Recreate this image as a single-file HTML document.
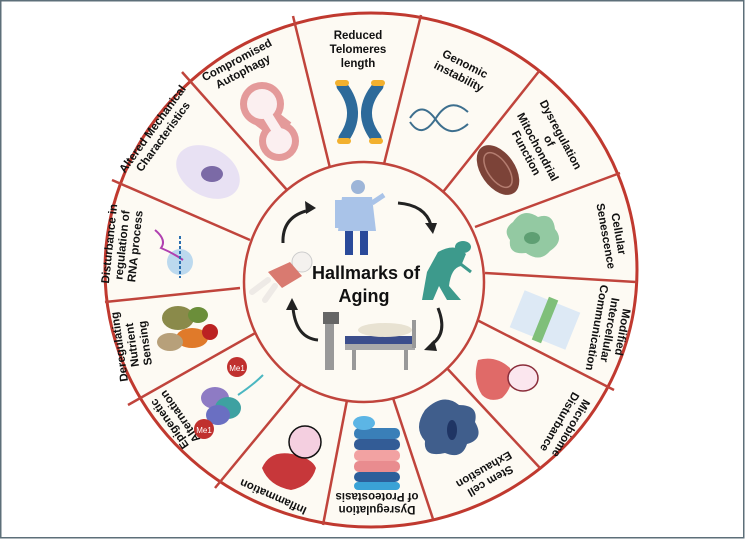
<!DOCTYPE html>
<html><head><meta charset="utf-8"><style>
html,body{margin:0;padding:0;background:#fff;}
svg{display:block;}
text{font-family:"Liberation Sans",Arial,sans-serif;font-weight:bold;fill:#111;}
</style></head><body>
<svg width="745" height="539" viewBox="0 0 745 539" xmlns="http://www.w3.org/2000/svg">
<rect x="0.75" y="0.75" width="743" height="537" fill="#fff" stroke="#5d6f79" stroke-width="1.5"/>
<ellipse cx="371" cy="270" rx="266" ry="257" fill="#fdfaf3" stroke="#c0392f" stroke-width="3"/>
<g stroke="#c0443c" stroke-width="2.5">
<line x1="330" y1="168" x2="293" y2="16"/>
<line x1="383" y1="168" x2="421" y2="15"/>
<line x1="443" y1="192" x2="540" y2="70"/>
<line x1="475" y1="227" x2="620" y2="173"/>
<line x1="485" y1="273" x2="637" y2="282"/>
<line x1="477" y1="320" x2="614" y2="390"/>
<line x1="444" y1="365" x2="540" y2="468"/>
<line x1="392" y1="395" x2="433" y2="519"/>
<line x1="348" y1="395" x2="323" y2="525"/>
<line x1="310" y1="373" x2="215" y2="488"/>
<line x1="257" y1="332" x2="128" y2="405"/>
<line x1="240" y1="288" x2="105" y2="302"/>
<line x1="250" y1="240" x2="112" y2="180"/>
<line x1="287" y1="190" x2="182" y2="72"/>
</g>
<circle cx="364" cy="282" r="120" fill="#fdfaf3" stroke="#c0443c" stroke-width="2.5"/>

<!-- labels -->
<g font-size="11.5" text-anchor="middle">
<text x="358" y="39">Reduced</text><text x="358" y="53">Telomeres</text><text x="358" y="67">length</text>
<g transform="translate(462,70) rotate(27)"><text y="-3">Genomic</text><text y="11">instability</text></g>
<g transform="translate(545,143) rotate(62)"><text y="-14">Dysregulation</text><text y="-1">of</text><text y="12">Mitochondrial</text><text y="25">Function</text></g>
<g transform="translate(612,235) rotate(80)"><text y="-3">Cellular</text><text y="10">Senescence</text></g>
<g transform="translate(610,330) rotate(100)"><text y="-9">Modified</text><text y="4">Intercellular</text><text y="17">Communication</text></g>
<g transform="translate(565,425) rotate(120)"><text y="-3">Microbiome</text><text y="10">Disturbance</text></g>
<g transform="translate(487,475) rotate(150)"><text y="-3">Stem cell</text><text y="10">Exhaustion</text></g>
<g transform="translate(377,503) rotate(180)"><text y="-3">Dysregulation</text><text y="10">of Proteostasis</text></g>
<g transform="translate(273,497) rotate(204)"><text y="4">Inflammation</text></g>
<g transform="translate(175,420) rotate(235)"><text y="-3">Epigenetic</text><text y="10">Alternation</text></g>
<g transform="translate(132,345) rotate(-98)"><text y="-9">Deregulating</text><text y="4">Nutrient</text><text y="17">Sensing</text></g>
<g transform="translate(122,245) rotate(-84)"><text y="-9">Disturbance in</text><text y="4">regulation of</text><text y="17">RNA process</text></g>
<g transform="translate(158,133) rotate(-54)"><text y="-3">Altered Mechanical</text><text y="10">Characteristics</text></g>
<g transform="translate(240,66) rotate(-28)"><text y="-3">Compromised</text><text y="10">Autophagy</text></g>
</g>

<g text-anchor="middle" font-size="18"><text x="366" y="279">Hallmarks of</text><text x="364" y="302">Aging</text></g>

<!-- telomere X -->
<g stroke="#2d6a9a" stroke-width="11" stroke-linecap="round" fill="none">
<path d="M342 86 Q362 112 344 138"/><path d="M378 86 Q356 112 376 138"/>
</g>
<g fill="#f2b02e"><rect x="335" y="80" width="14" height="6" rx="3"/><rect x="371" y="80" width="14" height="6" rx="3"/><rect x="337" y="138" width="14" height="6" rx="3"/><rect x="369" y="138" width="14" height="6" rx="3"/></g>
<!-- DNA -->
<g stroke="#3d6f8e" stroke-width="2" fill="none"><path d="M410 118 Q422 100 436 120 T468 124"/><path d="M410 122 Q422 140 436 118 T468 112"/></g>
<!-- mitochondrion -->
<ellipse cx="498" cy="170" rx="28" ry="17" transform="rotate(55 498 170)" fill="#7c4338"/>
<ellipse cx="498" cy="170" rx="20" ry="10" transform="rotate(55 498 170)" fill="none" stroke="#b47d70" stroke-width="1.5"/>
<!-- senescence -->
<path d="M513 222 q10 -15 25 -5 q15 -5 17 12 q10 12 -5 22 q-10 12 -24 2 q-18 2 -16 -13 q-8 -10 3 -18z" fill="#93c9a2"/>
<ellipse cx="532" cy="238" rx="8" ry="6" fill="#5e9f73"/>
<!-- communication -->
<g transform="rotate(22 545 320)"><rect x="515" y="300" width="60" height="40" fill="#dde9f5"/><rect x="540" y="297" width="10" height="46" fill="#7fbf7a"/></g>
<!-- microbiome -->
<path d="M478 360 q18 -5 32 8 q5 18 -8 30 q-12 5 -20 -3 q-10 -15 -4 -35z" fill="#e06a68"/>
<ellipse cx="523" cy="378" rx="15" ry="13" fill="#fbe6ee" stroke="#8a2d3a" stroke-width="1.5"/>
<!-- stem cell -->
<path d="M425 410 q18 -18 34 -5 q20 0 16 17 q10 17 -8 22 q-5 16 -22 9 q-22 5 -20 -12 q-12 -13 0 -31z" fill="#405e8c"/>
<ellipse cx="452" cy="430" rx="5" ry="10" fill="#1f3564"/>
<!-- proteostasis -->
<g><rect x="354" y="428" width="46" height="11" rx="5" fill="#3a7fb8"/><rect x="354" y="439" width="46" height="11" rx="5" fill="#335c96"/><rect x="354" y="450" width="46" height="11" rx="5" fill="#f2a2a2"/><rect x="354" y="461" width="46" height="11" rx="5" fill="#e98c8f"/><rect x="354" y="472" width="46" height="10" rx="5" fill="#2c5f9a"/><rect x="354" y="482" width="46" height="8" rx="4" fill="#3aa2d6"/><ellipse cx="364" cy="423" rx="11" ry="7" fill="#5cb5e5"/></g>
<!-- inflammation -->
<path d="M262 468 q8 -18 30 -14 q20 4 24 14 q-5 18 -25 22 q-22 -4 -29 -22z" fill="#c7373a"/>
<circle cx="305" cy="442" r="16" fill="#f4cfe0" stroke="#111" stroke-width="1.5"/>
<!-- epigenetic -->
<g><ellipse cx="215" cy="398" rx="14" ry="11" fill="#8e7bc4"/><ellipse cx="228" cy="408" rx="13" ry="11" fill="#3ea1a1"/><ellipse cx="218" cy="415" rx="12" ry="10" fill="#6a6fc2"/>
<circle cx="237" cy="367" r="10" fill="#c0302e"/><circle cx="204" cy="429" r="10" fill="#c0302e"/>
<text x="237" y="371" font-size="8" text-anchor="middle" style="fill:#fff;font-weight:normal">Me1</text>
<text x="204" y="433" font-size="8" text-anchor="middle" style="fill:#fff;font-weight:normal">Me1</text>
<path d="M238 395 q15 -10 25 -20" stroke="#4bb7c1" stroke-width="2" fill="none"/></g>
<!-- nutrient -->
<g><ellipse cx="178" cy="318" rx="16" ry="12" fill="#8a8a4a"/><ellipse cx="192" cy="338" rx="16" ry="10" fill="#e07a2a"/><ellipse cx="170" cy="342" rx="13" ry="9" fill="#b7a07a"/><circle cx="210" cy="332" r="8" fill="#b22"/><ellipse cx="198" cy="315" rx="10" ry="8" fill="#6b8e3a"/></g>
<!-- RNA -->
<circle cx="180" cy="262" r="13" fill="#bcd9ee"/><path d="M155 230 q12 10 6 18 q12 5 22 12" stroke="#b040b0" stroke-width="2" fill="none"/>
<path d="M180 236 v42" stroke="#2a6fb0" stroke-width="2" stroke-dasharray="3 2"/>
<!-- altered mech -->
<ellipse cx="208" cy="172" rx="34" ry="24" transform="rotate(30 208 172)" fill="#e8e1f3"/><ellipse cx="212" cy="174" rx="11" ry="8" fill="#7b6aa6"/>
<!-- autophagy -->
<g><circle cx="262" cy="104" r="22" fill="#e49a9a"/><circle cx="279" cy="141" r="20" fill="#e49a9a"/><path d="M258 112 L284 132" stroke="#e49a9a" stroke-width="24"/>
<circle cx="262" cy="104" r="15" fill="#fbeff0"/><circle cx="279" cy="141" r="13" fill="#fbeff0"/><path d="M264 110 L279 134" stroke="#fbeff0" stroke-width="10"/></g>

<!-- doctor -->
<g><circle cx="358" cy="187" r="7" fill="#9db5d8"/><path d="M342 197 h30 l4 34 h-38z" fill="#a9c3e8"/><rect x="335" y="200" width="7" height="28" fill="#a9c3e8"/><path d="M372 203 l12 -8" stroke="#a9c3e8" stroke-width="5"/><rect x="345" y="231" width="8" height="24" fill="#2a4a9a"/><rect x="360" y="231" width="8" height="24" fill="#2a4a9a"/></g>
<!-- old man -->
<g fill="#3d9a8c"><ellipse cx="463" cy="247" rx="8" ry="6"/><path d="M438 252 q18 -10 28 2 l-5 12 q-10 2 -12 20 l12 14 h-14 l-8 -14 l-6 14 h-11 l5 -28z"/><path d="M458 262 l13 10" stroke="#3d9a8c" stroke-width="3"/></g>
<!-- baby -->
<g><circle cx="302" cy="262" r="10" fill="#f4f1ee" stroke="#ccc"/><path d="M268 272 l22 -10 l12 14 l-20 12z" fill="#d97a70"/><path d="M268 280 l-16 12 M275 286 l-10 14" stroke="#eeeae6" stroke-width="6" stroke-linecap="round"/></g>
<!-- bed -->
<g><rect x="325" y="320" width="9" height="50" fill="#999"/><rect x="323" y="312" width="16" height="12" fill="#666"/><rect x="345" y="336" width="70" height="8" fill="#3c4e8c"/><path d="M345 344 h70 v6 h-70z" fill="#aaa"/><rect x="352" y="350" width="4" height="20" fill="#999"/><rect x="404" y="350" width="4" height="20" fill="#999"/><ellipse cx="385" cy="330" rx="27" ry="7" fill="#e8e2d2"/><rect x="412" y="320" width="4" height="28" fill="#999"/></g>

<!-- arrows -->
<g stroke="#222" stroke-width="3" fill="none">
<path d="M283 243 Q282 218 306 211"/>
<path d="M398 203 Q425 205 431 225"/>
<path d="M438 308 Q448 333 432 344"/>
<path d="M318 340 Q296 338 293 308"/>
</g>
<g fill="#222">
<path d="M316 208 l-11 -7 l1 13z"/>
<path d="M433 234 l-8 -11 l12 0z"/>
<path d="M424 350 l10 -10 l3 11z"/>
<path d="M292 298 l-6 12 l12 0z"/>
</g>
</svg>
</body></html>
